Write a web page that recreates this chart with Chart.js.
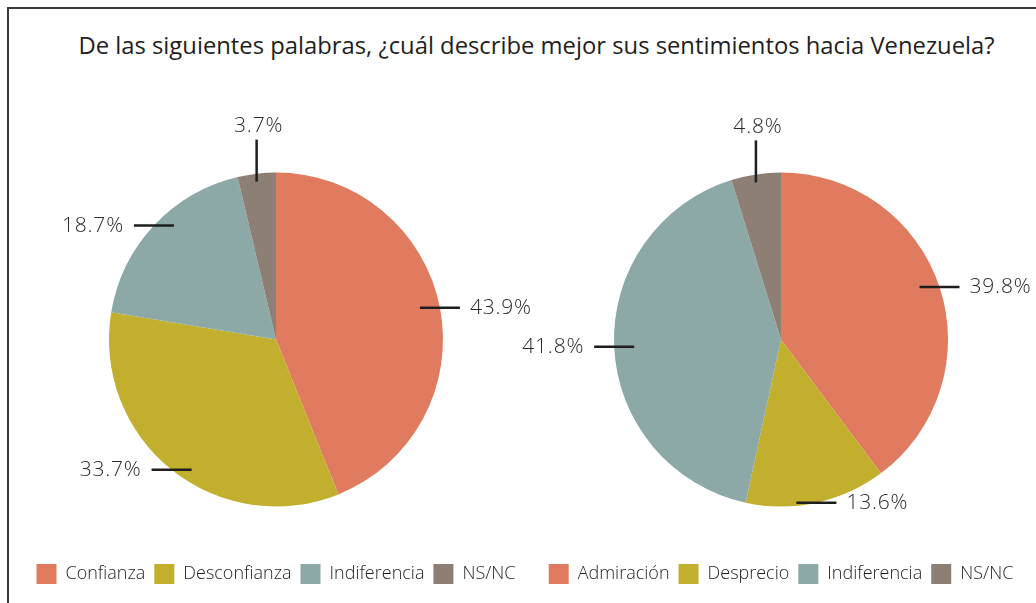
<!DOCTYPE html>
<html>
<head>
<meta charset="utf-8">
<script src="https://cdn.jsdelivr.net/npm/chart.js"></script>
<style>
  html, body { margin: 0; padding: 0; background: #fff; }
  body { width: 1036px; height: 603px; position: relative; overflow: hidden; font-family: 'Open Sans', sans-serif; }
  #frame { position: absolute; left: 7px; top: 7px; width: 1040px; height: 610px;
           border-left: 2px solid #3a3a3a; border-top: 2px solid #3a3a3a; }
  #title { position: absolute; left: 0; top: 29px; width: 1073px; text-align: center;
           font-size: 23.8px; color: #1e1e1e; }
  .box { position: absolute; top: 62px; width: 540px; height: 532px; }
</style>
</head>
<body>
<div id="frame"></div>
<div id="title">De las siguientes palabras, ¿cuál describe mejor sus sentimientos hacia Venezuela?</div>
<div class="box" style="left:6px"><canvas id="pieLeft"></canvas></div>
<div class="box" style="left:511px"><canvas id="pieRight"></canvas></div>
<script>
// -- Data.
const labels_left  = ['Confianza', 'Desconfianza', 'Indiferencia', 'NS/NC'];
const values_left  = [43.9, 33.7, 18.7, 3.7];
const labels_right = ['Admiración', 'Desprecio', 'Indiferencia', 'NS/NC'];
const values_right = [39.8, 13.6, 41.8, 4.8];
const slice_colors = ['#e07b5f', '#c2af2e', '#8ca9a8', '#8e7f74'];

const font_family = "'Open Sans', sans-serif";

// -- Draws the percentage labels with their short leader ticks.
const leader_labels = {
  id: 'leaderLabels',
  afterDatasetsDraw(chart) {
    const ctx = chart.ctx;
    const meta = chart.getDatasetMeta(0);
    const values = chart.data.datasets[0].data;
    ctx.save();
    ctx.strokeStyle = '#1e1e1e';
    ctx.lineWidth = 2.5;
    ctx.fillStyle = '#2a2a2a';
    ctx.font = '300 21px ' + font_family;
    ctx.letterSpacing = '0.8px';
    meta.data.forEach((arc, i) => {
      const {x, y, startAngle, endAngle, outerRadius: r} =
        arc.getProps(['x', 'y', 'startAngle', 'endAngle', 'outerRadius'], true);
      const mid = (startAngle + endAngle) / 2;
      const ex = x + Math.cos(mid) * r;
      const ey = y + Math.sin(mid) * r;
      const text = values[i].toFixed(1) + '%';
      ctx.beginPath();
      if (Math.sin(mid) < -0.95) {
        // -- Near the top: vertical tick, text above.
        ctx.moveTo(ex, ey + 8);
        ctx.lineTo(ex, ey - 34);
        ctx.stroke();
        ctx.textAlign = 'center';
        ctx.textBaseline = 'bottom';
        ctx.fillText(text, ex + 2, ey - 37);
      } else {
        // -- Elsewhere: horizontal tick, text to the outside.
        const right = Math.cos(mid) >= 0;
        ctx.moveTo(ex - 20, ey);
        ctx.lineTo(ex + 20, ey);
        ctx.stroke();
        ctx.textBaseline = 'middle';
        ctx.textAlign = right ? 'left' : 'right';
        ctx.fillText(text, right ? ex + 30 : ex - 30, ey);
      }
    });
    ctx.restore();
  }
};

const make_pie = (id, labels, values) => new Chart(document.getElementById(id), {
  type: 'pie',
  data: {
    labels: labels,
    datasets: [{
      data: values,
      backgroundColor: slice_colors,
      borderWidth: 0,
    }],
  },
  options: {
    responsive: true,
    maintainAspectRatio: false,
    animation: false,
    radius: 167,
    layout: { padding: { top: 62, bottom: 0 } },
    plugins: {
      legend: {
        position: 'bottom',
        labels: {
          boxWidth: 20,
          boxHeight: 20,
          padding: 9,
          color: '#1e1e1e',
          font: { family: font_family, size: 18, weight: '300' },
        },
      },
      tooltip: { enabled: false },
    },
  },
  plugins: [leader_labels],
});

make_pie('pieLeft', labels_left, values_left);
make_pie('pieRight', labels_right, values_right);
</script>
</body>
</html>
